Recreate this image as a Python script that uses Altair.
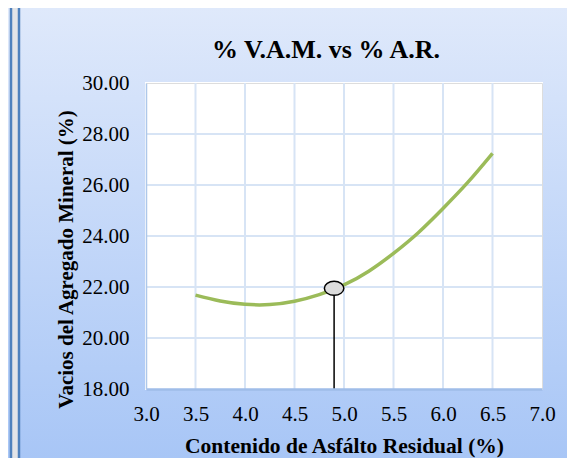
import altair as alt
import pandas as pd

# ---- data ----
ar = [3.5, 3.75, 4.0, 4.25, 4.5, 4.75, 5.0, 5.25, 5.5, 5.75, 6.0, 6.25, 6.5]
vam = [21.68, 21.45, 21.32, 21.31, 21.44, 21.70, 22.08, 22.62, 23.32, 24.13, 25.08, 26.10, 27.24]
opt_ar = [4.9]
opt_vam = [21.95]
x_ticks = [3.0, 3.5, 4.0, 4.5, 5.0, 5.5, 6.0, 6.5, 7.0]
y_ticks = [18, 20, 22, 24, 26, 28, 30]
title_text = "% V.A.M. vs % A.R."

FONT = "Liberation Serif"

W, H = 396, 306
PL, PT, PR, PB = 138, 75, 25, 69
TOT_H = PT + H + PB

TOP = (223, 233, 251)
BOT = (168, 198, 246)


def mix(f):
    return "#%02x%02x%02x" % tuple(round(a + (b - a) * f) for a, b in zip(TOP, BOT))


def grad(f0, f1):
    return alt.Gradient(
        gradient="linear", x1=0, y1=0, x2=0, y2=1,
        stops=[alt.GradientStop(color=mix(f0), offset=0),
               alt.GradientStop(color=mix(f1), offset=1)],
    )


one = pd.DataFrame({"k": [0]})
curve_df = pd.DataFrame({"ar": ar, "vam": vam})
opt_df = pd.DataFrame({"ar": opt_ar, "vam": opt_vam, "base": [y_ticks[0]] * len(opt_ar)})
xg_df = pd.DataFrame({"x": x_ticks[1:-1]})
yg_df = pd.DataFrame({"y": y_ticks[1:-1]})

xs = alt.Scale(domain=[x_ticks[0], x_ticks[-1]], nice=False, zero=False)
ys = alt.Scale(domain=[y_ticks[0], y_ticks[-1]], nice=False, zero=False)

base = alt.Chart(one)
f_top = PT / TOT_H
f_bot = (PT + H) / TOT_H


def band(x0, x1, y0, y1, f0, f1):
    return base.mark_rect(fill=grad(f0, f1)).encode(
        x=alt.value(x0), x2=alt.value(x1), y=alt.value(y0), y2=alt.value(y1))


bg = [
    band(-127, -1, -PT, H + PB, 0, 1),
    band(W + 1, W + PR, -PT, H + PB, 0, 1),
    band(-1, W + 1, -PT, -1, 0, f_top),
    band(-1, W + 1, H + 1, H + PB, f_bot, 1),
    band(-PL, -135, -PT, H + PB, 0, 1),
    base.mark_rect(fill="#e2e4e8").encode(
        x=alt.value(-134), x2=alt.value(-128), y=alt.value(-PT), y2=alt.value(H + PB)),
    base.mark_rule(color="#4f81bd", strokeWidth=2.5).encode(
        x=alt.value(-135), y=alt.value(-PT), y2=alt.value(H + PB)),
    base.mark_rule(color="#4f81bd", strokeWidth=2.5).encode(
        x=alt.value(-127), y=alt.value(-PT), y2=alt.value(H + PB)),
]

title = base.mark_text(
    text=title_text, font=FONT, fontSize=26, fontWeight="bold",
    color="#000000", align="center", baseline="alphabetic").encode(
    x=alt.value(180), y=alt.value(-25))

xgrid = alt.Chart(xg_df).mark_rule(color="#d7e4f5", strokeWidth=2).encode(
    x=alt.X("x:Q", scale=xs))
ygrid = alt.Chart(yg_df).mark_rule(color="#d7e4f5", strokeWidth=2).encode(
    y=alt.Y("y:Q", scale=ys))

x_axis = alt.Axis(
    values=x_ticks, format=".1f", grid=False, ticks=False, labelFlush=False,
    domainColor="#9fbde9", domainWidth=2.5,
    labelFont=FONT, labelFontSize=21, labelColor="#000000",
    labelPadding=14,
    title="Contenido de Asfálto Residual (%)",
    titleFont=FONT, titleFontSize=21.5, titleFontWeight="bold",
    titleColor="#000000", titlePadding=11, zindex=1,
)
y_axis = alt.Axis(
    values=y_ticks, format=".2f", grid=False, ticks=False, labelFlush=False,
    domainColor="#aec8ea", domainWidth=1.5,
    labelFont=FONT, labelFontSize=21, labelColor="#000000",
    labelPadding=17,
    title="Vacios del Agregado Mineral (%)",
    titleFont=FONT, titleFontSize=21, titleFontWeight="bold",
    titleColor="#000000", titleAngle=270, titleAlign="center",
    titleBaseline="middle", titleX=-80, titleY=176, zindex=1,
)

curve = alt.Chart(curve_df).mark_line(
    color="#9bbb59", strokeWidth=3.5, interpolate="natural").encode(
    x=alt.X("ar:Q", scale=xs, axis=x_axis),
    y=alt.Y("vam:Q", scale=ys, axis=y_axis),
)

drop = alt.Chart(opt_df).mark_rule(color="#000000", strokeWidth=1.5).encode(
    x=alt.X("ar:Q", scale=xs), y=alt.Y("vam:Q", scale=ys), y2="base:Q")

marker = alt.Chart(opt_df).mark_point(
    shape="M -1 0 A 1 0.72 0 1 1 1 0 A 1 0.72 0 1 1 -1 0 Z",
    size=380, filled=True, fill="#dcdcdc", stroke="#000000",
    strokeWidth=1.5, opacity=1).encode(
    x=alt.X("ar:Q", scale=xs), y=alt.Y("vam:Q", scale=ys))

chart = alt.layer(*bg, title, xgrid, ygrid, curve, drop, marker).properties(
    width=W, height=H,
    autosize=alt.AutoSizeParams(type="none"),
    padding={"left": PL, "top": PT, "right": PR, "bottom": PB},
).configure_view(fill="white", stroke="#9bbb59", strokeWidth=2).configure(
    background="white")

chart.save("out.html", embed_options={"renderer": "svg", "actions": False})
